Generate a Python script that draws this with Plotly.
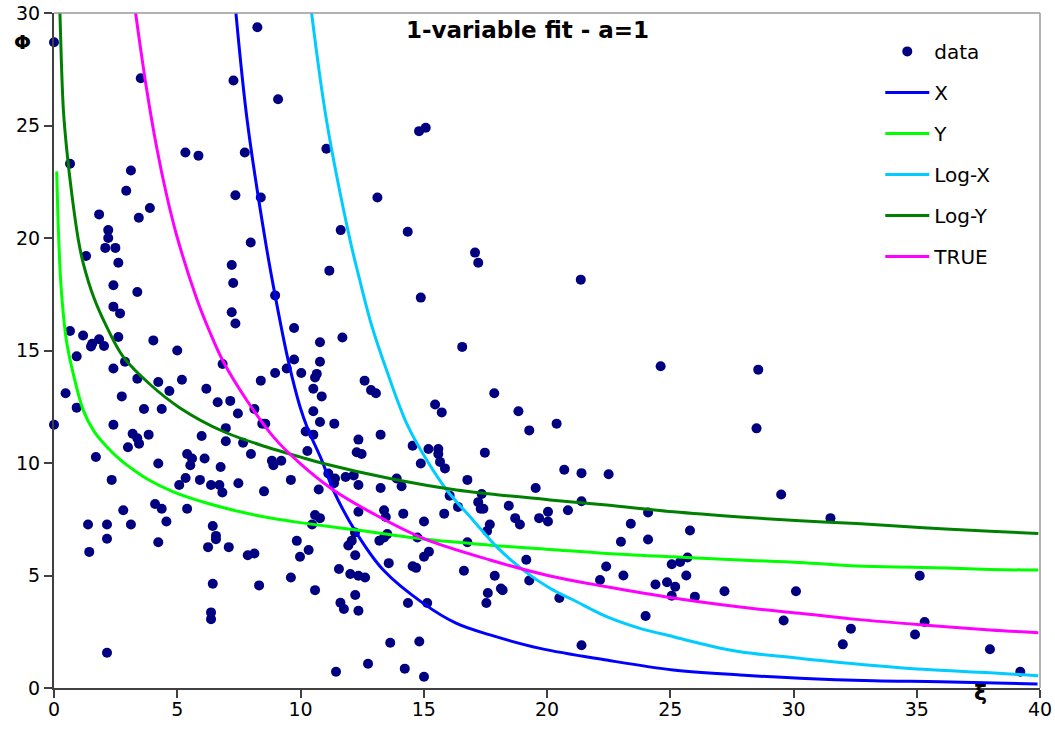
import plotly.graph_objects as go

# ---------------- data ----------------
data_x = [0.0, 8.25, 3.52, 7.28, 9.09, 0.65, 5.33, 5.86, 7.74, 3.12, 2.93, 7.36, 8.39, 1.83, 3.89, 3.44,
          15.08, 14.81, 11.05, 13.12,
          2.2, 2.2, 2.08, 2.49, 1.30, 2.61, 7.98, 7.21, 7.27, 8.97, 2.41, 3.38, 2.41, 2.68, 7.21, 7.36, 9.74,
          0.65, 1.18, 1.55, 1.50, 1.83, 2.03, 2.61, 4.03, 5.0, 0.92, 2.88, 6.84, 9.74, 8.97, 9.44, 10.03,
          2.41, 3.38, 5.19, 4.23, 4.68, 8.39, 0.47, 2.75, 6.18, 0.92, 3.65, 4.37, 6.64, 7.15, 7.46, 8.13,
          0.0, 2.41, 3.19, 3.38, 3.45, 3.84, 5.99, 6.97, 6.97, 8.45, 8.57, 7.67, 3.0, 1.70, 4.23, 5.4, 5.6,
          5.53, 6.11, 6.76, 7.99, 8.84, 9.22, 8.9,
          11.63, 14.35, 17.08, 17.21, 11.17, 14.88, 10.79, 11.7, 16.56, 10.79, 10.66, 10.59, 10.52, 10.86,
          12.6, 12.86, 13.06, 17.86, 15.46, 15.73, 18.84, 19.28, 10.52, 10.79, 11.37, 10.21, 10.52, 10.28,
          12.35, 13.25, 12.28, 12.48, 14.55, 15.19, 15.59, 15.59, 14.88, 15.66, 15.86, 17.48,
          21.37, 24.61, 28.57, 20.39, 28.5,
          2.34, 5.34, 5.08, 5.92, 6.37, 6.71, 6.83, 7.48, 8.52, 9.61, 2.81, 4.10, 4.37, 4.56, 5.40, 1.38,
          2.15, 3.12, 2.15, 1.43, 4.23, 6.44, 6.57, 6.57, 6.25, 7.09, 7.86, 8.13, 9.85, 9.98, 6.44, 8.32,
          9.61, 6.37, 6.37, 2.15,
          11.13, 11.4, 11.36, 11.83, 12.16, 12.35, 10.74, 13.25, 13.9, 14.1, 16.77, 16.05, 17.35, 16.39,
          17.21, 17.31, 17.42, 18.45, 19.54, 20.04, 19.68, 20.04, 18.71, 18.9, 15.83, 15.01, 14.17, 13.39,
          13.46, 12.35, 10.59, 10.79, 10.47, 17.68, 17.57, 12.21, 12.08, 11.94, 13.2, 13.39, 13.52, 14.74,
          16.77, 10.33, 12.22, 13.58, 15.21, 15.01, 14.55, 14.69, 19.16, 19.28, 16.63, 17.88, 17.6, 17.54,
          18.13, 18.2, 11.56, 12.02, 12.35, 12.62, 10.59, 12.22, 11.62, 11.76, 12.35, 14.36, 15.14, 13.64,
          14.82, 12.74, 11.44, 14.23, 15.01,
          20.7, 21.4, 22.5, 21.4, 20.85, 24.1, 23.4, 25.8, 23.0, 24.1, 22.4, 25.06, 25.4, 25.7, 22.15, 23.1,
          24.4, 24.87, 25.2, 25.06, 25.65, 26.0, 27.2, 20.5, 29.5, 30.1, 29.6, 24.0, 21.4,
          31.5, 35.12, 35.32, 34.93, 32.33, 32.0, 37.97, 39.2]
data_y = [28.7, 29.37, 27.1, 27.0, 26.17, 23.3, 23.8, 23.66, 23.8, 23.0, 22.1, 21.9, 21.8, 21.05, 21.33, 20.9,
          24.9, 24.75, 23.97, 21.8,
          20.35, 20.0, 19.56, 19.56, 19.2, 18.9, 19.8, 18.8, 18.0, 17.45, 17.9, 17.6, 16.95, 16.65, 16.7, 16.2, 16.0,
          15.87, 15.67, 15.3, 15.18, 15.5, 15.2, 15.6, 15.45, 15.0, 14.74, 14.5, 14.4, 14.6, 14.0, 14.2, 14.0,
          14.2, 13.75, 13.7, 13.6, 13.2, 13.66, 13.1, 12.96, 13.3, 12.46, 12.4, 12.4, 12.7, 12.76, 12.2, 12.4,
          11.7, 11.7, 11.3, 11.1, 10.86, 11.26, 11.2, 11.55, 10.97, 11.75, 11.75, 10.9, 10.7, 10.27, 9.98, 10.4, 10.2,
          9.9, 10.2, 9.82, 10.4, 10.1, 10.1, 9.9,
          20.35, 20.28, 19.35, 18.9, 18.55, 17.35, 15.37, 15.58, 15.16, 14.5, 13.96, 13.8, 13.3, 12.96,
          13.66, 13.24, 13.1, 13.1, 12.6, 12.25, 12.3, 11.45, 12.3, 11.82, 11.75, 11.4, 11.26, 10.53,
          11.04, 11.26, 10.48, 10.4, 10.77, 10.62, 10.62, 10.4, 9.98, 10.05, 9.76, 10.46,
          18.15, 14.3, 14.15, 11.75, 11.54,
          9.25, 9.33, 9.02, 9.25, 9.02, 9.02, 8.69, 9.1, 8.74, 9.25, 7.9, 8.18, 7.97, 7.4, 7.97, 7.27,
          7.27, 7.27, 6.63, 6.05, 6.48, 7.2, 6.76, 6.61, 6.26, 6.26, 5.9, 5.98, 6.54, 5.83, 4.63, 4.56,
          4.91, 3.36, 3.06, 1.57,
          9.53, 9.31, 9.1, 9.38, 9.45, 9.02, 8.82, 8.89, 9.31, 8.97, 9.25, 8.55, 8.62, 8.05,
          8.26, 7.97, 7.97, 8.1, 8.89, 7.83, 7.55, 7.4, 7.55, 7.27, 7.75, 7.4, 7.75, 7.9,
          7.6, 7.83, 7.69, 7.55, 7.27, 7.27, 6.98, 6.91, 6.55, 6.33, 6.55, 6.69, 6.84, 6.69,
          6.48, 6.13, 5.9, 5.55, 6.06, 5.83, 5.41, 5.34, 5.7, 4.78, 5.21, 4.99, 4.22, 3.78,
          4.42, 4.35, 5.29, 5.07, 4.99, 4.91, 4.35, 4.13, 3.79, 3.51, 3.43, 3.78, 3.78, 2.01,
          2.07, 1.08, 0.72, 0.86, 0.5,
          9.7, 9.55, 9.5, 8.3, 7.9, 7.8, 7.3, 7.0, 6.5, 6.6, 5.4, 5.5, 5.6, 5.8, 4.8, 5.0,
          4.6, 4.7, 4.5, 4.1, 5.0, 4.06, 4.3, 4.0, 8.6, 4.3, 3.0, 3.2, 1.9,
          7.55, 4.99, 2.93, 2.38, 2.63, 1.94, 1.72, 0.72]

x_curve_x = [7.38, 7.84, 8.57, 8.97, 9.5, 9.98, 10.3, 10.86, 11.33, 12.28, 13.36, 14.98, 16.33, 17.69,
             19.72, 22.42, 25.12, 27.83, 30.26, 33.24, 35.94, 39.9]
x_curve_y = [30, 25.2, 19.9, 17.45, 14.56, 12.5, 11.5, 10.13, 8.8, 6.87, 5.24, 3.76, 2.87, 2.36,
             1.76, 1.24, 0.8, 0.58, 0.43, 0.32, 0.28, 0.18]

y_curve_x = [0.11, 0.18, 0.27, 0.38, 0.51, 0.78, 1.19, 1.6, 2.14, 2.68, 3.22, 3.76, 4.84, 6.19, 7.55,
             8.9, 9.98, 12.28, 14.98, 17.69, 20.12, 22.42, 25.12, 27.83, 30.26, 32.56, 35.27, 37.97, 39.93]
y_curve_y = [22.96, 20.3, 18.1, 16.6, 15.4, 13.97, 12.34, 11.45, 10.72, 10.15, 9.7, 9.3, 8.72, 8.22, 7.83,
             7.53, 7.35, 7.02, 6.62, 6.35, 6.16, 5.98, 5.83, 5.69, 5.58, 5.42, 5.36, 5.27, 5.24]

logx_curve_x = [10.45, 11.06, 12.0, 12.41, 12.89, 13.5, 14.31, 15.12, 15.93, 17.0, 17.96, 19.04, 20.12,
                21.07, 22.42, 23.77, 25.12, 26.48, 27.83, 30.26, 32.56, 35.27, 37.97, 39.93]
logx_curve_y = [30, 25.2, 19.96, 18.1, 16.1, 14.1, 11.75, 10.13, 8.8, 7.46, 6.27, 5.24, 4.43,
                3.91, 3.17, 2.65, 2.28, 1.91, 1.61, 1.32, 1.07, 0.83, 0.68, 0.55]

logy_curve_x = [0.24, 0.3, 0.38, 0.51, 0.72, 0.99, 1.19, 1.6, 2.14, 2.81, 3.89, 5.11, 6.87, 8.63, 9.98,
                10.93, 13.63, 16.33, 20.12, 22.42, 25.12, 27.83, 30.26, 32.56, 35.27, 37.97, 39.93]
logy_curve_y = [30, 27.8, 25.7, 24.0, 21.97, 19.9, 18.86, 17.4, 16.05, 14.72, 13.5, 12.45, 11.4, 10.71,
                10.27, 9.98, 9.31, 8.8, 8.36, 8.13, 7.83, 7.6, 7.43, 7.31, 7.12, 6.97, 6.87]

true_curve_x = [3.31, 3.76, 4.17, 4.57, 4.98, 5.79, 6.33, 6.87, 7.82, 8.9, 9.98, 11.33, 12.95, 14.98,
                17.69, 20.12, 22.42, 25.12, 27.83, 30.26, 32.56, 35.27, 37.97, 39.93]
true_curve_y = [30, 26.6, 24.0, 21.9, 20.1, 17.3, 15.8, 14.5, 12.79, 11.16, 9.98, 8.8, 7.75, 6.65,
                5.69, 4.98, 4.5, 4.0, 3.6, 3.32, 3.05, 2.8, 2.58, 2.46]

x_ticks = [0, 5, 10, 15, 20, 25, 30, 35, 40]
y_ticks = [0, 5, 10, 15, 20, 25, 30]

FONT = "DejaVu Sans"

fig = go.Figure()
fig.add_trace(go.Scatter(x=data_x, y=data_y, mode="markers", name="data", legendgroup="a",
                         marker=dict(color="#000080", size=10), cliponaxis=False))

curves = [
    ("X", x_curve_x, x_curve_y, "#0000FF"),
    ("Y", y_curve_x, y_curve_y, "#00FF00"),
    ("Log-X", logx_curve_x, logx_curve_y, "#00CCFF"),
    ("Log-Y", logy_curve_x, logy_curve_y, "#008000"),
    ("TRUE", true_curve_x, true_curve_y, "#FF00FF"),
]
for i, (nm, cx, cy, col) in enumerate(curves):
    fig.add_trace(go.Scatter(x=cx, y=cy, mode="lines", name=nm, legendgroup="g%d" % i,
                             line=dict(color=col, width=3, shape="spline", smoothing=1.0)))

axis_common = dict(showline=True, linecolor="#404040", linewidth=2, ticks="outside", ticklen=8,
                   tickwidth=1.5, tickcolor="#404040", showgrid=False, zeroline=False,
                   automargin=False,
                   tickfont=dict(family=FONT, size=19, color="#000000"))

fig.update_layout(
    width=1055, height=740,
    margin=dict(l=54, r=15, t=13, b=52, autoexpand=False),
    paper_bgcolor="white", plot_bgcolor="white",
    font=dict(family=FONT, color="#000000"),
    title=dict(text="<b>1-variable fit - a=1</b>", x=0.5, xref="container", xanchor="center",
               y=1 - 30 / 740, yref="container", yanchor="middle",
               font=dict(family=FONT, size=23, color="#000000")),
    xaxis=dict(range=[0, 40], tickvals=x_ticks, ticklabelstandoff=-5, **axis_common),
    yaxis=dict(range=[0, 30], tickvals=y_ticks, **axis_common),
    legend=dict(x=0.838, y=0.972, xanchor="left", yanchor="top", bgcolor="rgba(0,0,0,0)",
                font=dict(family=FONT, size=20, color="#000000"), tracegroupgap=12,
                traceorder="grouped", itemwidth=44),
    shapes=[
        dict(type="line", xref="paper", yref="paper", x0=0, x1=1, y0=1, y1=1,
             line=dict(color="#999999", width=1.5)),
        dict(type="line", xref="paper", yref="paper", x0=1, x1=1, y0=0, y1=1,
             line=dict(color="#999999", width=1.5)),
    ],
    annotations=[
        dict(text="<b>Φ</b>", xref="paper", yref="paper", x=(22 - 54) / 986, y=(688 - 42) / 675,
             showarrow=False, xanchor="center", yanchor="middle",
             font=dict(family=FONT, size=20, color="#000000")),
        dict(text="<b>ξ</b>", xref="paper", yref="paper", x=(980 - 54) / 986, y=(688 - 692) / 675,
             showarrow=False, xanchor="center", yanchor="middle",
             font=dict(family=FONT, size=22, color="#000000")),
    ],
)

fig.write_html("out.html")
